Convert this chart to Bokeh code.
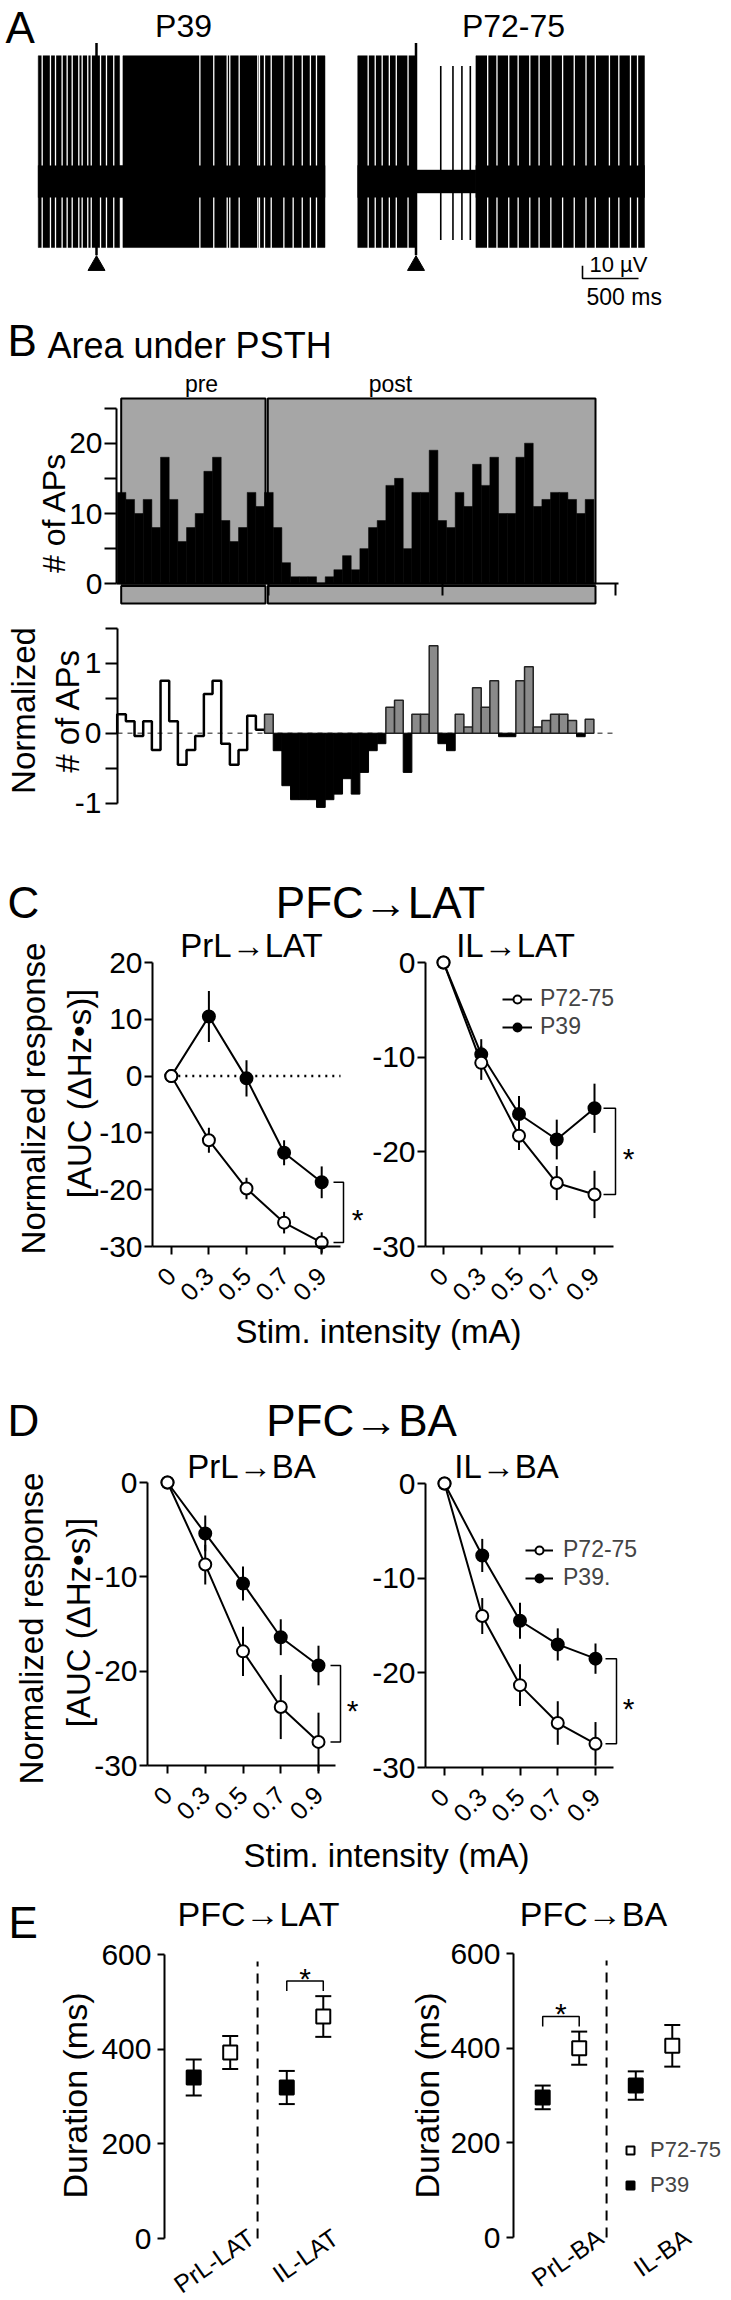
import math
from bokeh.plotting import figure
from bokeh.models import Range1d, LinearAxis, FixedTicker, Label, Legend, LegendItem
from bokeh.embed import file_html
from bokeh.resources import INLINE

FONT = "Liberation Sans"
BLACK = "#000000"

# ======================= DATA =======================
# (A) example recordings: time in ms (stimulus at 0), amplitude in µV
trace_window_ms = [-520, 2040]
spike_range_uv = [-52, 99]
stim_artifact_uv = [-58, 109]
p39_noise = [[-520, 2040, 12.6]]
p39_bursts_ms = [[-520, 206], [236, 2040]]
p39_gaps_ms = [-485, -411, -366, -307, -262, -217, -158, -128, -78, -47, 36, 89, 154,
               923, 1047, 1167, 1190, 1274, 1440, 1455, 1500, 1560, 1673, 1756, 1837, 1910, 1964]
p72_noise = [[-520, 0, 12.6], [0, 535, 9.0], [535, 2040, 12.6]]
p72_bursts_ms = [[-520, -4], [535, 2040]]
p72_gaps_ms = [-427, -364, -302, -238, -176, -71, 640, 723, 828, 912, 1016, 1099, 1204,
               1309, 1413, 1518, 1601, 1727, 1811, 1915, 1978]
p72_single_spikes_ms = [221, 330, 410, 485]
single_spike_uv = [-46, 91]
scalebar_ms = 500
scalebar_uv = 10

# (B) PSTH counts per bin (pre: 17 bins, post: 38 bins) and normalized values
psth_pre = [13, 12, 10, 12, 8, 18, 12, 6, 8, 10, 16, 18, 9, 6, 8, 13, 11]
psth_post = [13, 8, 3, 1, 1, 1, 0, 1, 2, 4, 2, 5, 8, 9, 14, 15, 5, 13, 13, 19,
             9, 8, 13, 11, 17, 14, 18, 10, 10, 18, 20, 11, 12, 13, 13, 12, 10, 12]
norm_pre = [0.27, 0.17, -0.04, 0.17, -0.24, 0.75, 0.17, -0.45, -0.24, -0.04,
            0.56, 0.75, -0.15, -0.45, -0.24, 0.25, 0.05]
norm_post = [0.27, -0.25, -0.75, -0.95, -0.95, -0.95, -1.06, -0.95, -0.87, -0.65,
             -0.87, -0.56, -0.25, -0.15, 0.37, 0.47, -0.56, 0.27, 0.27, 1.25,
             -0.15, -0.25, 0.27, 0.09, 0.65, 0.37, 0.75, -0.05, -0.05, 0.75,
             0.95, 0.09, 0.18, 0.27, 0.27, 0.18, -0.05, 0.2]

# (C, D) normalized response vs stimulation intensity
intensities = ["0", "0.3", "0.5", "0.7", "0.9"]
prl_lat_p39 = [0, 10.5, -0.4, -13.5, -18.7]
prl_lat_p39_err = [0, 4.5, 3.2, 2.2, 2.8]
prl_lat_p72 = [0, -11.3, -19.8, -25.8, -29.3]
prl_lat_p72_err = [0, 2.2, 1.9, 1.9, 1.8]
il_lat_p39 = [0, -9.7, -16.0, -18.7, -15.4]
il_lat_p39_err = [0, 1.6, 1.9, 2.1, 2.6]
il_lat_p72 = [0, -10.6, -18.3, -23.3, -24.5]
il_lat_p72_err = [0, 1.8, 1.5, 1.8, 2.5]
prl_ba_p39 = [0, -5.4, -10.7, -16.4, -19.4]
prl_ba_p39_err = [0, 1.9, 1.8, 1.9, 2.1]
prl_ba_p72 = [0, -8.7, -17.9, -23.8, -27.5]
prl_ba_p72_err = [0, 2.1, 2.6, 3.4, 3.1]
il_ba_p39 = [0, -7.6, -14.5, -17.0, -18.5]
il_ba_p39_err = [0, 1.75, 1.9, 1.7, 1.6]
il_ba_p72 = [0, -14.0, -21.3, -25.3, -27.5]
il_ba_p72_err = [0, 1.9, 2.2, 2.3, 2.3]

# (E) response duration (ms)
groups_lat = ["PrL-LAT", "IL-LAT"]
dur_lat_p39 = [340, 319]
dur_lat_p39_err = [38, 35]
dur_lat_p72 = [393, 469]
dur_lat_p72_err = [35, 43]
groups_ba = ["PrL-BA", "IL-BA"]
dur_ba_p39 = [296, 321]
dur_ba_p39_err = [25, 30]
dur_ba_p72 = [400, 405]
dur_ba_p72_err = [35, 44]

# ======================= CANVAS =======================
W, H = 730, 2299
p = figure(width=W, height=H, x_range=Range1d(0, W), y_range=Range1d(-H, 0),
           x_axis_location=None, y_axis_location=None,
           output_backend="svg", toolbar_location=None, min_border=0,
           outline_line_color=None, background_fill_color="white",
           border_fill_color="white")
p.xgrid.visible = False
p.ygrid.visible = False


def lin(p1, v1, p2, v2):
    k = (v2 - v1) / (p2 - p1)
    return lambda q: v1 + (q - p1) * k


def sub(name, X, Y):
    p.extra_x_ranges[name] = Range1d(X(0), X(W))
    p.extra_y_ranges[name] = Range1d(Y(H), Y(0))
    return dict(x_range_name=name, y_range_name=name)


def label(px, py, text, size, align="left", angle=0.0, centre=False):
    # py is the text baseline (or the centre if centre=True); drawn with a middle anchor
    yc = py if centre else py - 0.35 * size
    p.add_layout(Label(x=px, y=-yc, text=text, text_font=FONT,
                       text_font_size=f"{size}px", text_align=align,
                       text_baseline="middle", angle=angle, text_color=BLACK))


def vlabel(px, py, text, size):
    label(px, py, text, size, "center", math.pi / 2, centre=True)


def style_axis(ax, size, tick_out, standoff, lw=2):
    ax.axis_line_width = lw
    ax.axis_line_color = BLACK
    ax.major_tick_line_width = lw
    ax.major_tick_line_color = BLACK
    ax.major_tick_out = tick_out
    ax.major_tick_in = 0
    ax.minor_tick_line_color = None
    ax.major_label_text_font = FONT
    ax.major_label_text_font_size = f"{size}px"
    ax.major_label_text_color = BLACK
    ax.major_label_standoff = standoff


def add_yaxis(kw, at, ticks, labels, bounds, size=30, tick_out=8, standoff=2):
    ax = LinearAxis(ticker=FixedTicker(ticks=ticks), bounds=bounds, fixed_location=at,
                    major_label_overrides={t: l for t, l in zip(ticks, labels)}, **kw)
    style_axis(ax, size, tick_out, standoff)
    p.add_layout(ax, "left")
    return ax


def star(kw, x, y):
    p.add_layout(Label(x=x, y=y, text="*", text_font=FONT, text_font_size="30px",
                       text_align="center", text_baseline="middle",
                       text_color=BLACK, **kw))


# ======================= PANEL A =======================
def trace(name, stim_px, noise, bursts, gaps, singles):
    X = lin(stim_px, 0, stim_px + 56, 500)
    Y = lin(181, 0, 181 - 12.7, 10)
    kw = sub(name, X, Y)
    p.quad(left=[n[0] for n in noise], right=[n[1] for n in noise],
           bottom=[-n[2] for n in noise], top=[n[2] for n in noise],
           fill_color=BLACK, line_color=BLACK, line_width=0.5, **kw)
    p.quad(left=[b[0] for b in bursts], right=[b[1] for b in bursts],
           bottom=spike_range_uv[0], top=spike_range_uv[1],
           fill_color=BLACK, line_color=BLACK, line_width=0.5, **kw)
    nh = noise[0][2]
    p.segment(x0=gaps, x1=gaps, y0=[nh] * len(gaps), y1=[spike_range_uv[1] + 3] * len(gaps),
              line_color="white", line_width=1.3, **kw)
    p.segment(x0=gaps, x1=gaps, y0=[-nh] * len(gaps), y1=[spike_range_uv[0] - 3] * len(gaps),
              line_color="white", line_width=1.3, **kw)
    if singles:
        p.segment(x0=singles, x1=singles, y0=[single_spike_uv[0]] * len(singles),
                  y1=[single_spike_uv[1]] * len(singles), line_color=BLACK, line_width=1.6, **kw)
    p.segment(x0=[0], x1=[0], y0=[stim_artifact_uv[0]], y1=[stim_artifact_uv[1]],
              line_color=BLACK, line_width=2.5, **kw)
    p.scatter(x=[0], y=[Y(265)], marker="triangle", size=17, fill_color=BLACK,
              line_color=BLACK, **kw)
    return X, Y, kw


trace("a1", 96, p39_noise, p39_bursts_ms, p39_gaps_ms, None)
XA2, YA2, kwA2 = trace("a2", 415.5, p72_noise, p72_bursts_ms, p72_gaps_ms, p72_single_spikes_ms)
sx, sy = XA2(582), YA2(278)
p.line(x=[sx, sx, sx + scalebar_ms], y=[sy + scalebar_uv, sy, sy],
       line_color=BLACK, line_width=1.6, **kwA2)
label(5, 42, "A", 44)
label(183, 37, "P39", 32, "center")
label(513, 37, "P72-75", 32, "center")
label(589, 272, "10 µV", 22)
label(586, 305, "500 ms", 23)

# ======================= PANEL B =======================
bw = 8.667
XB = lin(116.7, 0, 116.7 + 55 * bw, 55)
YB1 = lin(583.3, 0, 442.7, 20)
kwB1 = sub("b1", XB, YB1)
n_pre = len(psth_pre)
n_all = n_pre + len(psth_post)
win_l = [XB(120.7), XB(267.3)]
win_r = [XB(265.0), XB(595.0)]
p.quad(left=win_l, right=win_r, bottom=0, top=YB1(398),
       fill_color="#a6a6a6", line_color=BLACK, line_width=2, **kwB1)
p.quad(left=win_l, right=win_r, bottom=YB1(603), top=YB1(585.5),
       fill_color="#a6a6a6", line_color=BLACK, line_width=2, **kwB1)
p.vbar(x=[i + 0.5 for i in range(n_all)], top=psth_pre + psth_post, bottom=0, width=1.0,
       fill_color=BLACK, line_color=BLACK, line_width=0.5, **kwB1)
add_yaxis(kwB1, XB(116), [0, 5, 10, 15, 20, 25], ["0", "", "10", "", "20", ""], (0, 25), 30, 12, 2)
xb = LinearAxis(ticker=FixedTicker(ticks=[17.5, 37.5, 57.5]), fixed_location=0,
                bounds=(XB(116), XB(618)),
                major_label_overrides={17.5: "", 37.5: "", 57.5: ""}, **kwB1)
style_axis(xb, 1, 12, 0)
p.add_layout(xb, "below")
label(7, 355, "B", 44)
label(47, 358, "Area under PSTH", 36)
label(201, 392, "pre", 23, "center")
label(390, 392, "post", 23, "center")
vlabel(53, 512, "# of APs", 32)

YB2 = lin(732.7, 0, 662.7, 1)
kwB2 = sub("b2", XB, YB2)
p.line(x=[XB(117), XB(613)], y=[0, 0], line_color="#666666", line_width=1.5,
       line_dash="5 5", **kwB2)
step_x = [0] + list(range(n_pre)) + [n_pre]
step_y = [0] + norm_pre + [norm_pre[-1]]
p.step(x=step_x, y=step_y, mode="after", line_color=BLACK, line_width=2.5, **kwB2)
post_x = [n_pre + i + 0.5 for i in range(len(norm_post))]
pos_x = [x for x, v in zip(post_x, norm_post) if v >= 0]
pos_v = [v for v in norm_post if v >= 0]
neg_x = [x for x, v in zip(post_x, norm_post) if v < 0]
neg_v = [v for v in norm_post if v < 0]
p.vbar(x=pos_x, top=pos_v, bottom=0, width=1.0, fill_color="#8a8a8a",
       line_color="#222222", line_width=1.5, **kwB2)
p.vbar(x=neg_x, top=0, bottom=neg_v, width=1.0, fill_color=BLACK,
       line_color=BLACK, line_width=1.0, **kwB2)
add_yaxis(kwB2, XB(117), [-1, -0.5, 0, 0.5, 1, 1.5], ["-1", "", "0", "", "1", ""],
          (-1, 1.5), 30, 12, 4)
vlabel(23, 710, "Normalized", 33)
vlabel(67, 710, "# of APs", 33)


# ======================= PANELS C / D =======================
def dose_plot(name, X, Y, axis_px, yticks, axis_end_px, p39, e39, p72, e72,
              bracket_px, star_px, zero_line=False):
    kw = sub(name, X, Y)
    xs = list(range(len(intensities)))
    add_yaxis(kw, X(axis_px), yticks, [str(t) for t in yticks], (yticks[0], yticks[-1]), 30, 8, 2)
    xa = LinearAxis(ticker=FixedTicker(ticks=xs), fixed_location=yticks[0],
                    bounds=(X(axis_px), X(axis_end_px)),
                    major_label_overrides=dict(zip(xs, intensities)),
                    major_label_orientation=math.pi / 4, **kw)
    style_axis(xa, 25, 8, 17)
    p.add_layout(xa, "below")
    if zero_line:
        p.line(x=[0, X(axis_end_px)], y=[0, 0], line_color=BLACK, line_width=2.5,
               line_dash="2 5", **kw)
    l39 = p.line(xs, p39, line_color=BLACK, line_width=2, **kw)
    l72 = p.line(xs, p72, line_color=BLACK, line_width=2, **kw)
    for vals, errs in [(p39, e39), (p72, e72)]:
        p.segment(x0=xs, x1=xs, y0=[v - e for v, e in zip(vals, errs)],
                  y1=[v + e for v, e in zip(vals, errs)], line_color=BLACK, line_width=2, **kw)
    s39 = p.scatter(xs, p39, marker="circle", size=12, fill_color=BLACK,
                    line_color=BLACK, line_width=2, **kw)
    s72 = p.scatter(xs, p72, marker="circle", size=12, fill_color="white",
                    line_color=BLACK, line_width=2, **kw)
    xa0, xa1 = X(bracket_px[0]), X(bracket_px[1])
    p.line(x=[xa0, xa1, xa1, xa0], y=[p39[-1], p39[-1], p72[-1], p72[-1]],
           line_color=BLACK, line_width=1.5, **kw)
    mid = (p39[-1] + p72[-1]) / 2
    star(kw, X(star_px), mid + (Y(7) - Y(0)))
    return (l39, s39, l72, s72)


def line_legend(r, left_px, bottom_px, glyph_w, standoff, names):
    l39, s39, l72, s72 = r
    leg = Legend(items=[LegendItem(label=names[0], renderers=[l72, s72]),
                        LegendItem(label=names[1], renderers=[l39, s39])],
                 location=(left_px, H - bottom_px), orientation="vertical",
                 glyph_width=glyph_w, glyph_height=20,
                 label_standoff=standoff, spacing=1, padding=0, margin=0,
                 border_line_color=None, background_fill_alpha=0,
                 label_text_font=FONT, label_text_font_size="23px", label_height=20)
    p.add_layout(leg)


label(7, 917, "C", 44)
label(380, 917, "PFC\u2192LAT", 44, "center")
dose_plot("cl", lin(170.8, 0, 321.2, 4), lin(1246, -30, 962, 20), 152,
          [-30, -20, -10, 0, 10, 20], 340, prl_lat_p39, prl_lat_p39_err,
          prl_lat_p72, prl_lat_p72_err, (333, 343), 357, zero_line=True)
label(251, 957, "PrL\u2192LAT", 33, "center")
vlabel(33, 1098, "Normalized response", 33)
vlabel(79, 1093, "[AUC (\u0394Hz\u2022s)]", 33)

rC = dose_plot("cr", lin(443, 0, 594, 4), lin(1246, -30, 962, 0), 425,
               [-30, -20, -10, 0], 613, il_lat_p39, il_lat_p39_err,
               il_lat_p72, il_lat_p72_err, (603, 615), 628)
label(515, 957, "IL\u2192LAT", 33, "center")
line_legend(rC, 502, 1040, 30, 8, ["P72-75", "P39"])
label(378, 1343, "Stim. intensity (mA)", 33, "center")

label(7, 1435, "D", 44)
label(361, 1435, "PFC\u2192BA", 44, "center")
dose_plot("dl", lin(167, 0, 318, 4), lin(1765, -30, 1482, 0), 147,
          [-30, -20, -10, 0], 335, prl_ba_p39, prl_ba_p39_err,
          prl_ba_p72, prl_ba_p72_err, (330, 340), 352)
label(251, 1478, "PrL\u2192BA", 33, "center")
vlabel(31, 1628, "Normalized response", 33)
vlabel(78, 1622, "[AUC (\u0394Hz\u2022s)]", 33)

rD = dose_plot("dr", lin(444, 0, 595, 4), lin(1767, -30, 1483, 0), 425,
               [-30, -20, -10, 0], 613, il_ba_p39, il_ba_p39_err,
               il_ba_p72, il_ba_p72_err, (605, 616), 628)
label(506, 1478, "IL\u2192BA", 33, "center")
line_legend(rD, 525, 1591, 28, 10, ["P72-75", "P39."])
label(386, 1867, "Stim. intensity (mA)", 33, "center")

# ======================= PANEL E =======================
group_centers = [1.3, 3.85]


def duration_plot(name, X, Y, groups, label_pos, v39, e39, v72, e72, star_group):
    kw = sub(name, X, Y)
    add_yaxis(kw, 0, [0, 200, 400, 600], ["0", "200", "400", "600"], (0, 600), 30, 7, 6)
    xa = LinearAxis(ticker=FixedTicker(ticks=label_pos), fixed_location=Y(2234),
                    major_label_overrides=dict(zip(label_pos, groups)),
                    major_label_orientation=math.radians(35), **kw)
    style_axis(xa, 25, 0, 0)
    xa.axis_line_color = None
    xa.major_tick_line_color = None
    p.add_layout(xa, "below")
    p.line(x=[2.55, 2.55], y=[0, 585], line_color=BLACK, line_width=2, line_dash="10 7", **kw)
    x39 = [c - 0.5 for c in group_centers]
    x72 = [c + 0.5 for c in group_centers]
    for xs, vals, errs in [(x39, v39, e39), (x72, v72, e72)]:
        lo = [v - e for v, e in zip(vals, errs)]
        hi = [v + e for v, e in zip(vals, errs)]
        p.segment(x0=xs, x1=xs, y0=lo, y1=hi, line_color=BLACK, line_width=2, **kw)
        p.scatter(xs + xs, lo + hi, marker="dash", size=16, line_color=BLACK, line_width=2, **kw)
    s39 = p.scatter(x39, v39, marker="square", size=14, fill_color=BLACK,
                    line_color=BLACK, line_width=2, **kw)
    s72 = p.scatter(x72, v72, marker="square", size=14, fill_color="white",
                    line_color=BLACK, line_width=2, **kw)
    g = star_group
    top = v72[g] + e72[g] + 32
    p.line(x=[x39[g], x39[g], x72[g], x72[g]], y=[top - 21, top, top, top - 21],
           line_color=BLACK, line_width=1.5, **kw)
    star(kw, group_centers[g], top + (Y(-3) - Y(0)))
    return s39, s72


duration_plot("el", lin(164, 0, 200.5, 1), lin(2238, 0, 1954, 600), groups_lat, [2.38, 4.68],
              dur_lat_p39, dur_lat_p39_err, dur_lat_p72, dur_lat_p72_err, 1)
label(8, 1937, "E", 44)
label(258, 1925, "PFC\u2192LAT", 34, "center")
vlabel(74, 2095, "Duration (ms)", 34)

sq39, sq72 = duration_plot("er", lin(513, 0, 549.5, 1), lin(2237, 0, 1953, 600), groups_ba,
                           [2.38, 4.77], dur_ba_p39, dur_ba_p39_err, dur_ba_p72,
                           dur_ba_p72_err, 0)
label(593, 1925, "PFC\u2192BA", 34, "center")
vlabel(426, 2095, "Duration (ms)", 34)
legE = Legend(items=[LegendItem(label="P72-75", renderers=[sq72]),
                     LegendItem(label="P39", renderers=[sq39])],
              location=(620, H - 2198), orientation="vertical", glyph_width=20, glyph_height=20,
              label_standoff=10, spacing=9, padding=0, margin=0,
              border_line_color=None, background_fill_alpha=0,
              label_text_font=FONT, label_text_font_size="22px", label_height=20)
p.add_layout(legE)

open("out.html", "w").write(file_html(p, INLINE))
